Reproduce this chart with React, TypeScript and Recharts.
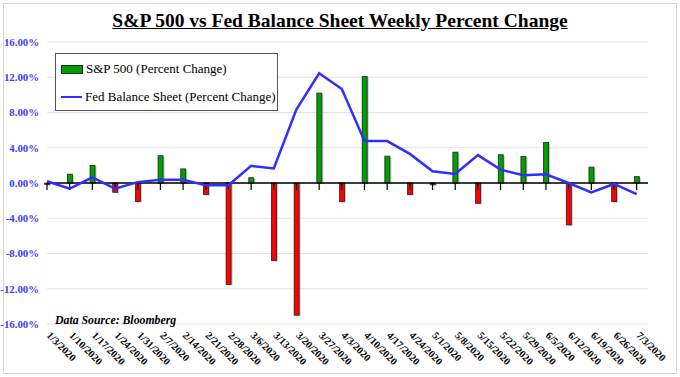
import {
  Bar,
  CartesianGrid,
  Cell,
  ComposedChart,
  Line,
  ReferenceLine,
  XAxis,
  YAxis
} from "recharts";

const weeks = [
  "1/3/2020", "1/10/2020", "1/17/2020", "1/24/2020", "1/31/2020", "2/7/2020", "2/14/2020",
  "2/21/2020", "2/28/2020", "3/6/2020", "3/13/2020", "3/20/2020", "3/27/2020", "4/3/2020",
  "4/10/2020", "4/17/2020", "4/24/2020", "5/1/2020", "5/8/2020", "5/15/2020", "5/22/2020",
  "5/29/2020", "6/5/2020", "6/12/2020", "6/19/2020", "6/26/2020", "7/3/2020"
];

// S&P 500 weekly % change
const spChange = [
  -0.16, 1.0, 2.0, -1.05, -2.1, 3.1, 1.6, -1.3, -11.5, 0.6, -8.8, -15.0, 10.2, -2.1,
  12.1, 3.05, -1.3, -0.2, 3.5, -2.3, 3.2, 3.0, 4.6, -4.75, 1.8, -2.1, 0.72
];

// Fed balance sheet weekly % change
const fedChange = [
  0.2, -0.64, 0.64, -0.64, 0.1, 0.37, 0.37, -0.26, -0.26, 1.95, 1.65, 8.35, 12.45, 10.67,
  4.76, 4.76, 3.3, 1.33, 1.03, 3.16, 1.52, 0.88, 0.99, 0.0, -1.07, -0.11, -1.26
];

const yTicks = [-16, -12, -8, -4, 0, 4, 8, 12, 16];

const data = weeks.map((week, i) => ({ idx: i, week, sp: spChange[i], fed: fedChange[i] }));

const serif = "'Liberation Serif', 'Times New Roman', serif";

function ShadowBar(props: any) {
  const { x, y, width, height, fill } = props;
  if (!width) return null;
  const top = height < 0 ? y + height : y;
  const h = Math.abs(height);
  return (
    <g>
      <rect x={x + 1.5} y={top + 1} width={width} height={h} fill="#a0a0a0" opacity={0.6} />
      <rect x={x} y={top} width={width} height={h} fill={fill} stroke="#222" strokeWidth={0.8} />
    </g>
  );
}

function WeekTick(props: any) {
  const { x, y, payload } = props;
  return (
    <g transform={`translate(${x - 1},${y + 12})`}>
      <text transform="rotate(45)" textAnchor="start" fontFamily={serif} fontWeight="bold" fontSize={10.3} fill="#000">
        {weeks[payload.value]}
      </text>
    </g>
  );
}

export default function App() {
  return (
    <div style={{ position: "relative", width: 680, height: 377, background: "#fff", overflow: "hidden" }}>
      <style>{`body{margin:0}`}</style>
      <div
        style={{
          position: "absolute",
          left: 3,
          top: 3,
          width: 672,
          height: 369,
          border: "1px solid #d8d8d8"
        }}
      />
      <div
        style={{
          position: "absolute",
          top: 10,
          left: 0,
          width: 680,
          textAlign: "center",
          fontFamily: serif,
          fontWeight: "bold",
          fontSize: 19.5,
          textDecoration: "underline",
          color: "#000",
          whiteSpace: "nowrap"
        }}
      >
        S&amp;P 500 vs Fed Balance Sheet Weekly Percent Change
      </div>
      <ComposedChart
        width={680}
        height={377}
        data={data}
        margin={{ top: 42, right: 32, bottom: 0, left: 0 }}
        style={{ position: "absolute", left: 0, top: 0 }}
      >
        <CartesianGrid vertical={false} stroke="#e2e2e2" strokeWidth={1.2} />
        <XAxis
          dataKey="idx"
          type="number"
          domain={[0, 26.5]}
          ticks={weeks.map((_, i) => i)}
          interval={0}
          axisLine={false}
          tickLine={false}
          tickSize={0}
          tickMargin={0}
          height={53}
          tick={<WeekTick />}
        />
        <YAxis
          domain={[-16, 16]}
          ticks={yTicks}
          width={47}
          axisLine={false}
          tickLine={false}
          tick={{ fill: "#3a3aff", fontSize: 10.8, fontFamily: serif, fontWeight: "bold" }}
          tickFormatter={(v: number) => `${v.toFixed(2)}%`}
        />
        <Bar dataKey="sp" barSize={5} shape={<ShadowBar />} isAnimationActive={false}>
          {data.map((d) => (
            <Cell key={d.week} fill={d.sp >= 0 ? "#00a000" : "#ff0000"} />
          ))}
        </Bar>
        <ReferenceLine y={0} stroke="#000" strokeWidth={1.5} />
        {data.map((d) => (
          <ReferenceLine
            key={`t-${d.week}`}
            segment={[{ x: d.idx, y: 0 }, { x: d.idx, y: -0.8 }]}
            stroke="#000"
            strokeWidth={1.2}
          />
        ))}
        <Line
          dataKey="fed"
          type="linear"
          stroke="#2f2fff"
          strokeWidth={2.5}
          dot={false}
          isAnimationActive={false}
        />
      </ComposedChart>
      <div
        style={{
          position: "absolute",
          left: 55,
          top: 53,
          width: 223,
          height: 58,
          border: "1px solid #555",
          background: "#fff",
          fontFamily: serif,
          fontSize: 13,
          color: "#000",
          boxSizing: "border-box",
          padding: "1px 0 0 5px",
          whiteSpace: "nowrap"
        }}
      >
        <div style={{ display: "flex", alignItems: "center", height: 28 }}>
          <span style={{ width: 20, height: 7, background: "#00a000", border: "1px solid #222", marginRight: 3 }} />
          S&amp;P 500 (Percent Change)
        </div>
        <div style={{ display: "flex", alignItems: "center", height: 28 }}>
          <span style={{ width: 21, height: 2.5, background: "#2f2fff", marginRight: 3 }} />
          Fed Balance Sheet (Percent Change)
        </div>
      </div>
      <div
        style={{
          position: "absolute",
          left: 55,
          top: 313,
          fontFamily: serif,
          fontWeight: "bold",
          fontStyle: "italic",
          fontSize: 11.8,
          color: "#000",
          whiteSpace: "nowrap"
        }}
      >
        Data Source: Bloomberg
      </div>
    </div>
  );
}
